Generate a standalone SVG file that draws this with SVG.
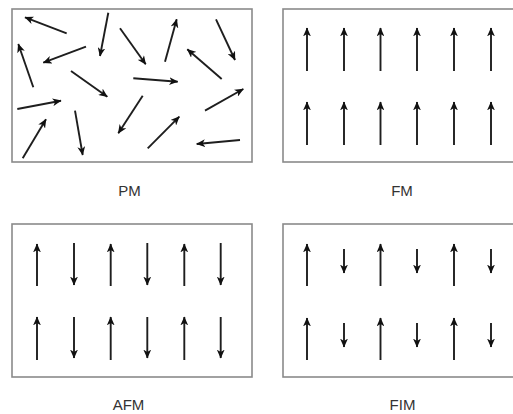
<svg xmlns="http://www.w3.org/2000/svg" width="513" height="414" viewBox="0 0 513 414">
<defs>
<marker id="ah" viewBox="0 0 8 7" markerWidth="9" markerHeight="7.9" refX="7.5" refY="3.5" orient="auto" markerUnits="userSpaceOnUse">
<path d="M0,0 L8,3.5 L0,7 L2.2,3.5 z" fill="#111"/>
</marker>
</defs>
<style>
.box{fill:#fff;stroke:#8a8a8a;stroke-width:1.6}
.a{stroke:#1e1e1e;stroke-width:1.9;fill:none;marker-end:url(#ah)}
.lbl{font-family:"Liberation Sans",Arial,sans-serif;font-size:15px;fill:#333;text-anchor:middle}
</style>
<rect width="513" height="414" fill="#fff"/>
<g id="pm">
<rect class="box" x="12" y="9" width="240" height="153"/>
<line class="a" x1="66.7" y1="33.3" x2="25" y2="17.3"/>
<line class="a" x1="108.3" y1="12.7" x2="100" y2="56"/>
<line class="a" x1="120" y1="28.3" x2="145.7" y2="64.3"/>
<line class="a" x1="165" y1="61.7" x2="176.7" y2="19.3"/>
<line class="a" x1="216" y1="19.3" x2="235" y2="60"/>
<line class="a" x1="33.3" y1="87.3" x2="18.3" y2="44"/>
<line class="a" x1="86" y1="46.7" x2="43.3" y2="62.7"/>
<line class="a" x1="221.7" y1="79" x2="187.3" y2="49.3"/>
<line class="a" x1="71" y1="71" x2="107.3" y2="96.7"/>
<line class="a" x1="133.3" y1="78.3" x2="177.7" y2="81.7"/>
<line class="a" x1="17.3" y1="109" x2="61" y2="100.7"/>
<line class="a" x1="142.7" y1="95.7" x2="118.3" y2="133.3"/>
<line class="a" x1="205" y1="110.7" x2="243.3" y2="89"/>
<line class="a" x1="22.7" y1="158.3" x2="46" y2="119.3"/>
<line class="a" x1="75" y1="110.7" x2="82.7" y2="155"/>
<line class="a" x1="147.7" y1="148.3" x2="179.3" y2="116.7"/>
<line class="a" x1="240" y1="140" x2="196.7" y2="144"/>
<text class="lbl" x="129.5" y="196">PM</text>
</g>
<g id="fm">
<rect class="box" x="283" y="9" width="240" height="153"/>
<line class="a" x1="307" y1="71" x2="307" y2="28"/>
<line class="a" x1="344" y1="71" x2="344" y2="28"/>
<line class="a" x1="380.5" y1="71" x2="380.5" y2="28"/>
<line class="a" x1="417" y1="71" x2="417" y2="28"/>
<line class="a" x1="454" y1="71" x2="454" y2="28"/>
<line class="a" x1="491" y1="71" x2="491" y2="28"/>
<line class="a" x1="307" y1="145" x2="307" y2="102"/>
<line class="a" x1="344" y1="145" x2="344" y2="102"/>
<line class="a" x1="380.5" y1="145" x2="380.5" y2="102"/>
<line class="a" x1="417" y1="145" x2="417" y2="102"/>
<line class="a" x1="454" y1="145" x2="454" y2="102"/>
<line class="a" x1="491" y1="145" x2="491" y2="102"/>
<text class="lbl" x="402" y="196">FM</text>
</g>
<g id="afm">
<rect class="box" x="12" y="224" width="240" height="153"/>
<line class="a" x1="37" y1="286" x2="37" y2="244"/>
<line class="a" x1="74" y1="243" x2="74" y2="285"/>
<line class="a" x1="110.7" y1="286" x2="110.7" y2="244"/>
<line class="a" x1="147.3" y1="243" x2="147.3" y2="285"/>
<line class="a" x1="184.3" y1="286" x2="184.3" y2="244"/>
<line class="a" x1="220.7" y1="243" x2="220.7" y2="285"/>
<line class="a" x1="37" y1="360" x2="37" y2="317"/>
<line class="a" x1="74" y1="317" x2="74" y2="358"/>
<line class="a" x1="110.7" y1="360" x2="110.7" y2="317"/>
<line class="a" x1="147.3" y1="317" x2="147.3" y2="358"/>
<line class="a" x1="184.3" y1="360" x2="184.3" y2="317"/>
<line class="a" x1="220.7" y1="317" x2="220.7" y2="358"/>
<text class="lbl" x="128.5" y="410">AFM</text>
</g>
<g id="fim">
<rect class="box" x="283" y="224" width="240" height="153"/>
<line class="a" x1="307" y1="286" x2="307" y2="244"/>
<line class="a" x1="344" y1="249" x2="344" y2="273"/>
<line class="a" x1="380.5" y1="286" x2="380.5" y2="244"/>
<line class="a" x1="417" y1="249" x2="417" y2="273"/>
<line class="a" x1="454" y1="286" x2="454" y2="244"/>
<line class="a" x1="491" y1="249" x2="491" y2="273"/>
<line class="a" x1="307" y1="360" x2="307" y2="318"/>
<line class="a" x1="344" y1="323" x2="344" y2="347"/>
<line class="a" x1="380.5" y1="360" x2="380.5" y2="318"/>
<line class="a" x1="417" y1="323" x2="417" y2="347"/>
<line class="a" x1="454" y1="360" x2="454" y2="318"/>
<line class="a" x1="491" y1="323" x2="491" y2="347"/>
<text class="lbl" x="402.5" y="410">FIM</text>
</g>
</svg>
